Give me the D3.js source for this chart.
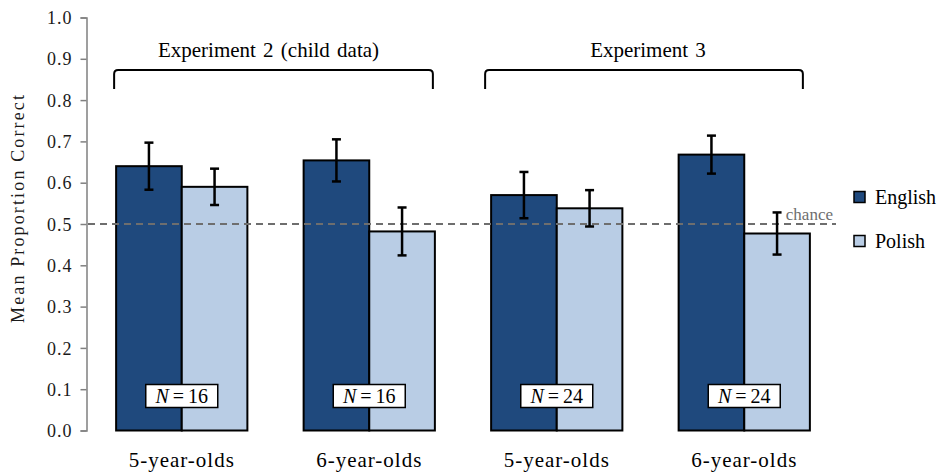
<!DOCTYPE html>
<html>
<head>
<meta charset="utf-8">
<script src="https://cdn.jsdelivr.net/npm/d3@7"></script>
</head>
<body style="margin:0;background:#fff">
<svg id="chart" width="940" height="475" style="display:block"></svg>
<script>
// Age groups along the x axis and the two language conditions
const groups = ["g1", "g2", "g3", "g4"];
const groupLabels = ["5-year-olds", "6-year-olds", "5-year-olds", "6-year-olds"];
const sampleSizes = [16, 16, 24, 24];
const languages = ["English", "Polish"];

// Mean proportion correct and error-bar half widths, per group
const englishMeans = [0.640, 0.654, 0.570, 0.668];
const englishErr   = [0.057, 0.051, 0.056, 0.046];
const polishMeans  = [0.590, 0.482, 0.538, 0.477];
const polishErr    = [0.044, 0.058, 0.044, 0.051];

const yTicks = [0, 0.1, 0.2, 0.3, 0.4, 0.5, 0.6, 0.7, 0.8, 0.9, 1.0];
const chanceLevel = 0.5;

// Experiment brackets spanning groups
const experiments = ["Experiment 2 (child data)", "Experiment 3"];
const experimentFirst = ["g1", "g3"];
const experimentLast  = ["g2", "g4"];

const colors = { English: "#1f497d", Polish: "#b9cde5" };
const FONT = "'Liberation Serif', 'Times New Roman', serif";

const svg = d3.select("#chart");

const x = d3.scaleBand().domain(groups).range([88, 838]).paddingInner(0.3).paddingOuter(0.15);
const xInner = d3.scaleBand().domain(languages).range([0, x.bandwidth()]);
const y = d3.scaleLinear().domain([0, 1]).range([430.5, 17.5]);

const rows = [];
groups.forEach((g, i) => {
  rows.push({ g, lang: "English", v: englishMeans[i], e: englishErr[i] });
  rows.push({ g, lang: "Polish", v: polishMeans[i], e: polishErr[i] });
});

// Y axis
const yAxis = d3.axisLeft(y).tickValues(yTicks).tickFormat(d3.format(".1f")).tickSize(6).tickPadding(8);
const ya = svg.append("g").attr("transform", "translate(86.5,0)").call(yAxis);
ya.select(".domain").attr("stroke", "#808080").attr("stroke-width", 1.5);
ya.selectAll(".tick line").attr("stroke", "#808080").attr("stroke-width", 1.5);
ya.selectAll(".tick text")
  .style("font-family", FONT).style("font-size", "18px").style("letter-spacing", "1px")
  .attr("fill", "#1a1a1a").attr("dy", "0.34em");

svg.append("text")
  .attr("transform", `translate(24,${y(0.5) - 15}) rotate(-90)`)
  .attr("text-anchor", "middle")
  .style("font-family", FONT).style("font-size", "18px")
  .attr("textLength", 228).attr("lengthAdjust", "spacing")
  .attr("fill", "#1a1a1a")
  .text("Mean Proportion Correct");

// Bars
svg.append("g").selectAll("rect").data(rows).join("rect")
  .attr("x", d => x(d.g) + xInner(d.lang))
  .attr("y", d => y(d.v))
  .attr("width", xInner.bandwidth())
  .attr("height", d => y(0) - y(d.v))
  .attr("fill", d => colors[d.lang])
  .attr("stroke", "#000").attr("stroke-width", 2);

// Chance line
svg.append("line")
  .attr("x1", 88).attr("x2", 836)
  .attr("y1", y(chanceLevel)).attr("y2", y(chanceLevel))
  .attr("stroke", "#6e6e6e").attr("stroke-width", 2)
  .attr("stroke-dasharray", "7,5");
svg.append("text")
  .attr("x", 833).attr("y", y(chanceLevel) - 4)
  .attr("text-anchor", "end")
  .style("font-family", FONT).style("font-size", "17px")
  .attr("fill", "#6e6e6e")
  .text("chance");

// Error bars
const eb = svg.append("g").attr("stroke", "#000").attr("stroke-width", 2.5);
rows.forEach(d => {
  const cx = x(d.g) + xInner(d.lang) + xInner.bandwidth() / 2;
  eb.append("line").attr("x1", cx).attr("x2", cx).attr("y1", y(d.v + d.e)).attr("y2", y(d.v - d.e));
  eb.append("line").attr("x1", cx - 4.5).attr("x2", cx + 4.5).attr("y1", y(d.v + d.e)).attr("y2", y(d.v + d.e));
  eb.append("line").attr("x1", cx - 4.5).attr("x2", cx + 4.5).attr("y1", y(d.v - d.e)).attr("y2", y(d.v - d.e));
});

// Sample size boxes
groups.forEach((g, i) => {
  const cx = x(g) + x.bandwidth() / 2;
  const cy = 396;
  svg.append("rect").attr("x", cx - 36).attr("y", cy - 11.5).attr("width", 72).attr("height", 23)
    .attr("fill", "#fff").attr("stroke", "#000").attr("stroke-width", 1.5);
  const t = svg.append("text").attr("x", cx).attr("y", cy + 7)
    .attr("text-anchor", "middle")
    .style("font-family", FONT).style("font-size", "20px")
    .attr("fill", "#000");
  t.append("tspan").style("font-style", "italic").text("N");
  t.append("tspan").text("\u2009=\u2009" + sampleSizes[i]);
});

// Group labels
groups.forEach((g, i) => {
  svg.append("text")
    .attr("x", x(g) + x.bandwidth() / 2).attr("y", 467)
    .attr("text-anchor", "middle")
    .style("font-family", FONT).style("font-size", "21px").style("letter-spacing", "1px")
    .attr("fill", "#000")
    .text(groupLabels[i]);
});

// Experiment brackets
experiments.forEach((name, i) => {
  const x0 = x(experimentFirst[i]) - (i === 0 ? 2 : 6);
  const x1 = x(experimentLast[i]) + x.bandwidth() - (i === 0 ? 2 : 7);
  const top = 70, bot = 89, r = 4;
  svg.append("path")
    .attr("d", `M${x0},${bot} V${top + r} Q${x0},${top} ${x0 + r},${top} H${x1 - r} Q${x1},${top} ${x1},${top + r} V${bot}`)
    .attr("fill", "none").attr("stroke", "#000").attr("stroke-width", 2);
  svg.append("text")
    .attr("x", (x0 + x1) / 2 + (i === 1 ? 4 : -5)).attr("y", 57)
    .attr("text-anchor", "middle")
    .style("font-family", FONT).style("font-size", "21px").style("word-spacing", "2px")
    .attr("fill", "#000")
    .text(name);
});

// Legend
languages.forEach((lang, i) => {
  const ly = 197 + i * 44;
  svg.append("rect").attr("x", 854).attr("y", ly - 5.5).attr("width", 11).attr("height", 11)
    .attr("fill", colors[lang]).attr("stroke", "#000").attr("stroke-width", 1.5);
  svg.append("text").attr("x", 875).attr("y", ly + 7)
    .style("font-family", FONT).style("font-size", "20px")
    .attr("fill", "#000").text(lang);
});
</script>
</body>
</html>
